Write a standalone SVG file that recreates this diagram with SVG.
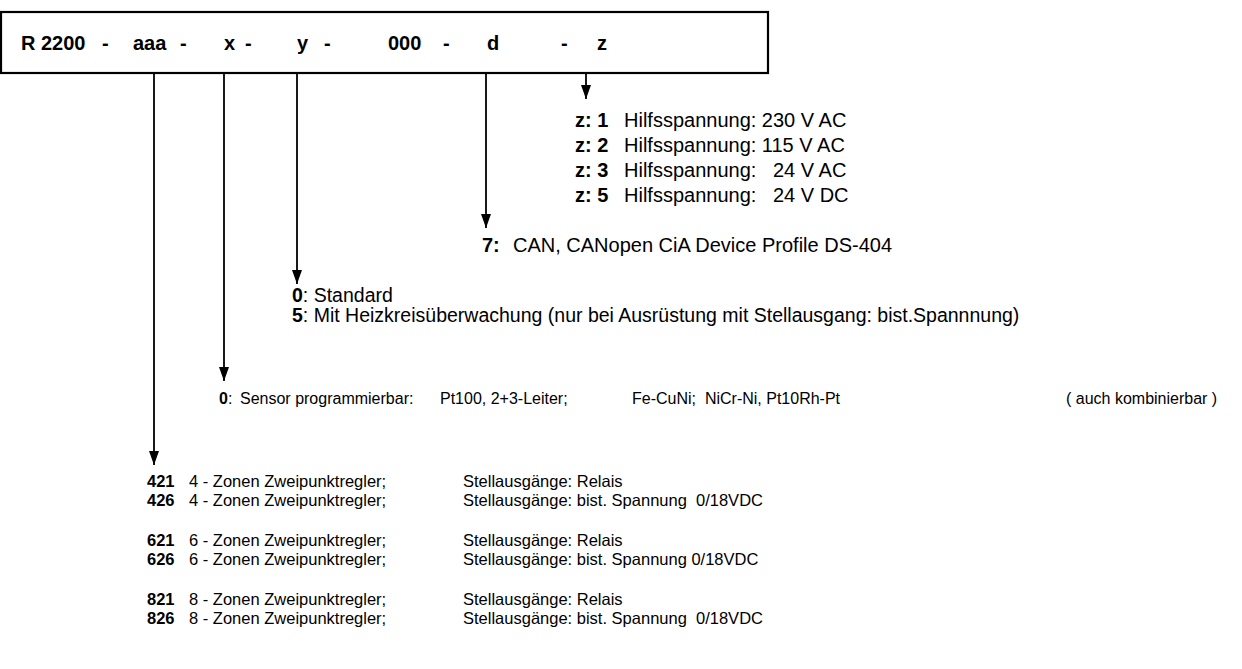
<svg xmlns="http://www.w3.org/2000/svg" width="1242" height="669" viewBox="0 0 1242 669">
<style>
text{font-family:"Liberation Sans",Arial,sans-serif;font-size:20px;fill:#000;white-space:pre}
.b{font-weight:bold}
.h{font-size:20px;font-weight:bold}
.m{font-size:19.5px}
.s{font-size:16px}
.t{font-size:16.5px}
.ln{stroke:#000;stroke-width:1.8;fill:none}
</style>
<defs>
<marker id="ah" markerUnits="userSpaceOnUse" markerWidth="14" markerHeight="10" refX="14" refY="5" orient="auto">
<path d="M0,0 L14,5 L0,10 z" fill="#000"/>
</marker>
</defs>
<g id="code-box">
<rect x="1" y="12" width="767" height="61" fill="#fff" stroke="#000" stroke-width="2.2"/>
<text class="h" y="50"><tspan x="21">R 2200</tspan><tspan x="102">-</tspan><tspan x="133">aaa</tspan><tspan x="180">-</tspan><tspan x="224">x</tspan><tspan x="245">-</tspan><tspan x="297">y</tspan><tspan x="324">-</tspan><tspan x="388">000</tspan><tspan x="443">-</tspan><tspan x="487">d</tspan><tspan x="561">-</tspan><tspan x="597">z</tspan></text>
</g>
<g id="connectors">
<line class="ln" x1="154" y1="73" x2="154" y2="465" marker-end="url(#ah)"/>
<line class="ln" x1="224" y1="73" x2="224" y2="381" marker-end="url(#ah)"/>
<line class="ln" x1="297" y1="73" x2="297" y2="284" marker-end="url(#ah)"/>
<line class="ln" x1="486" y1="73" x2="486" y2="228" marker-end="url(#ah)"/>
<line class="ln" x1="586" y1="73" x2="586" y2="99" marker-end="url(#ah)"/>
</g>
<g id="z-options">
<text xml:space="preserve" y="127"><tspan class="b" x="575">z: 1</tspan><tspan x="624">Hilfsspannung: 230 V AC</tspan></text>
<text xml:space="preserve" y="152"><tspan class="b" x="575">z: 2</tspan><tspan x="624">Hilfsspannung: 115 V AC</tspan></text>
<text xml:space="preserve" y="177"><tspan class="b" x="575">z: 3</tspan><tspan x="624">Hilfsspannung:   24 V AC</tspan></text>
<text xml:space="preserve" y="202"><tspan class="b" x="575">z: 5</tspan><tspan x="624">Hilfsspannung:   24 V DC</tspan></text>
</g>
<g id="d-options">
<text y="252"><tspan class="b" x="482">7:</tspan><tspan x="513">CAN, CANopen CiA Device Profile DS-404</tspan></text>
</g>
<g id="y-options">
<text class="m" y="302"><tspan class="b" x="292">0</tspan><tspan>: Standard</tspan></text>
<text class="m" y="322"><tspan class="b" x="292">5</tspan><tspan>: Mit Heizkreisüberwachung (nur bei Ausrüstung mit Stellausgang: bist.Spannnung)</tspan></text>
</g>
<g id="x-options">
<text xml:space="preserve" class="s" y="404"><tspan class="b" x="219">0</tspan><tspan>:</tspan><tspan x="240">Sensor programmierbar:</tspan><tspan x="440">Pt100, 2+3-Leiter;</tspan><tspan x="632">Fe-CuNi;  NiCr-Ni, Pt10Rh-Pt</tspan><tspan x="1066">( auch kombinierbar )</tspan></text>
</g>
<g id="aaa-options">
<text xml:space="preserve" class="t" y="487"><tspan class="b" x="147">421</tspan><tspan x="189">4 - Zonen Zweipunktregler;</tspan><tspan x="463">Stellausgänge: Relais</tspan></text>
<text xml:space="preserve" class="t" y="506"><tspan class="b" x="147">426</tspan><tspan x="189">4 - Zonen Zweipunktregler;</tspan><tspan x="463">Stellausgänge: bist. Spannung  0/18VDC</tspan></text>
<text xml:space="preserve" class="t" y="546"><tspan class="b" x="147">621</tspan><tspan x="189">6 - Zonen Zweipunktregler;</tspan><tspan x="463">Stellausgänge: Relais</tspan></text>
<text xml:space="preserve" class="t" y="565"><tspan class="b" x="147">626</tspan><tspan x="189">6 - Zonen Zweipunktregler;</tspan><tspan x="463">Stellausgänge: bist. Spannung 0/18VDC</tspan></text>
<text xml:space="preserve" class="t" y="605"><tspan class="b" x="147">821</tspan><tspan x="189">8 - Zonen Zweipunktregler;</tspan><tspan x="463">Stellausgänge: Relais</tspan></text>
<text xml:space="preserve" class="t" y="624"><tspan class="b" x="147">826</tspan><tspan x="189">8 - Zonen Zweipunktregler;</tspan><tspan x="463">Stellausgänge: bist. Spannung  0/18VDC</tspan></text>
</g>
</svg>
